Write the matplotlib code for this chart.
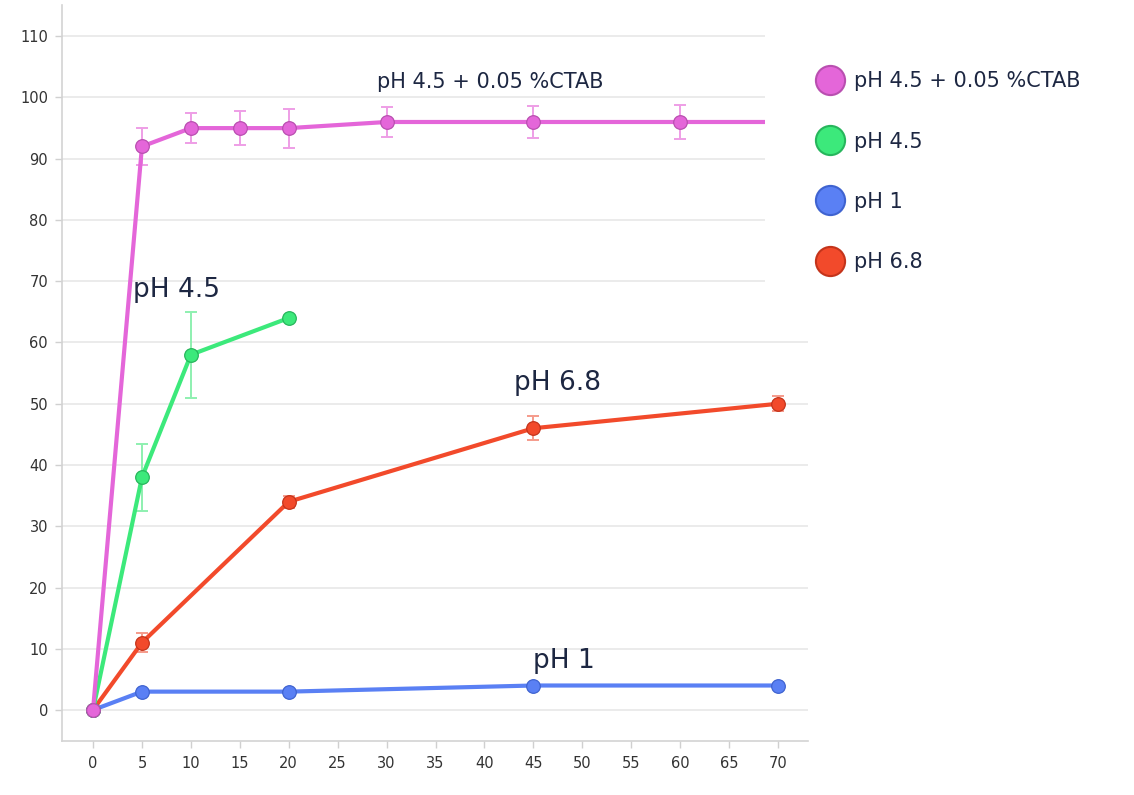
import matplotlib
matplotlib.use("Agg")
import matplotlib.pyplot as plt
from matplotlib.lines import Line2D
from matplotlib.patches import Rectangle

# Release data (time in minutes, % released)
t_ctab = [0, 5, 10, 15, 20, 30, 45, 60, 70]
y_ctab = [0, 92, 95, 95, 95, 96, 96, 96, 96]
e_ctab = [0, 3.0, 2.5, 2.8, 3.2, 2.5, 2.6, 2.7, 0]

t_ph45 = [0, 5, 10, 20]
y_ph45 = [0, 38, 58, 64]
e_ph45 = [0, 5.5, 7.0, 0.4]

t_ph1 = [0, 5, 20, 45, 70]
y_ph1 = [0, 3, 3, 4, 4]
e_ph1 = [0, 0, 0, 0, 0]

t_ph68 = [0, 5, 20, 45, 70]
y_ph68 = [0, 11, 34, 46, 50]
e_ph68 = [0, 1.6, 1.0, 2.0, 1.2]

labels = ["pH 4.5 + 0.05 %CTAB", "pH 4.5", "pH 1", "pH 6.8"]
x_ticks = list(range(0, 75, 5))
y_ticks = list(range(0, 120, 10))

series = [
    (t_ctab, y_ctab, e_ctab, "#e466d9", "#b94fb0", "#ee9ee6"),
    (t_ph45, y_ph45, e_ph45, "#3ce97b", "#27b65c", "#8ef0b0"),
    (t_ph1, y_ph1, e_ph1, "#5a80f4", "#3f63d0", "#9fb5f8"),
    (t_ph68, y_ph68, e_ph68, "#f24a2b", "#c4341b", "#f59b8b"),
]

TEXT = "#1d2742"
ANN_FONT = "DejaVu Sans"

fig = plt.figure(figsize=(11.34, 7.95), dpi=100)
ax = fig.add_axes([62 / 1134, 1 - 741 / 795, (808 - 62) / 1134, (741 - 5) / 795])

ax.set_xlim(-3.17, 73.06)
ax.set_ylim(-5.06, 115.1)

# draw series back to front so the CTAB curve sits on top
for (t, y, e, col, edge, ecol) in reversed(series):
    ax.errorbar(t, y, yerr=e, fmt="none", ecolor=ecol, elinewidth=1.4,
                capsize=4.5, capthick=1.4, zorder=3)
    ax.plot(t, y, color=col, lw=3.0, marker="o", markersize=9.8,
            markerfacecolor=col, markeredgecolor=edge, markeredgewidth=0.9,
            zorder=4, solid_capstyle="round")

ax.set_xticks(x_ticks)
ax.set_yticks(y_ticks)
ax.grid(axis="y", color="#e6e6e6", lw=1.1, zorder=0)
ax.grid(axis="x", visible=False)
for s in ["top", "right"]:
    ax.spines[s].set_visible(False)
for s in ["left", "bottom"]:
    ax.spines[s].set_color("#d3d3d3")
    ax.spines[s].set_linewidth(1.2)
ax.tick_params(axis="both", colors="#d0d0d0", length=5, width=1.0,
               labelcolor="#333333", labelsize=10.5)
for lab in ax.get_xticklabels() + ax.get_yticklabels():
    lab.set_family("DejaVu Sans")
ax.tick_params(axis="x", pad=6)
ax.tick_params(axis="y", pad=5)

# curve annotations
ax.text(40.6, 102.6, labels[0], fontsize=15, color=TEXT, family=ANN_FONT,
        ha="center", va="center")
ax.text(4.1, 68.5, labels[1], fontsize=19, color=TEXT, family=ANN_FONT,
        ha="left", va="center")
ax.text(43.0, 53.4, labels[3], fontsize=19, color=TEXT, family=ANN_FONT,
        ha="left", va="center")
ax.text(45.0, 8.0, labels[2], fontsize=19, color=TEXT, family=ANN_FONT,
        ha="left", va="center")

# white panel behind the legend
fig.add_artist(Rectangle((765 / 1134, 1 - 305 / 795), 1 - 765 / 1134, 305 / 795,
                         transform=fig.transFigure, facecolor="white",
                         edgecolor="none", zorder=5))

handles = [Line2D([], [], ls="none", marker="o", markersize=21,
                  markerfacecolor=col, markeredgecolor=edge, markeredgewidth=1.5)
           for (_, _, _, col, edge, _) in series]
leg = fig.legend(handles, labels, loc="upper left",
                 bbox_to_anchor=(801 / 1134, 1 - 63 / 795), frameon=False,
                 prop={"family": ANN_FONT, "size": 15}, labelspacing=1.93,
                 handletextpad=0.15, handlelength=2.0, borderaxespad=0)
leg.set_zorder(6)
for txt in leg.get_texts():
    txt.set_color(TEXT)

fig.savefig("out.png", dpi=100, facecolor="white")
